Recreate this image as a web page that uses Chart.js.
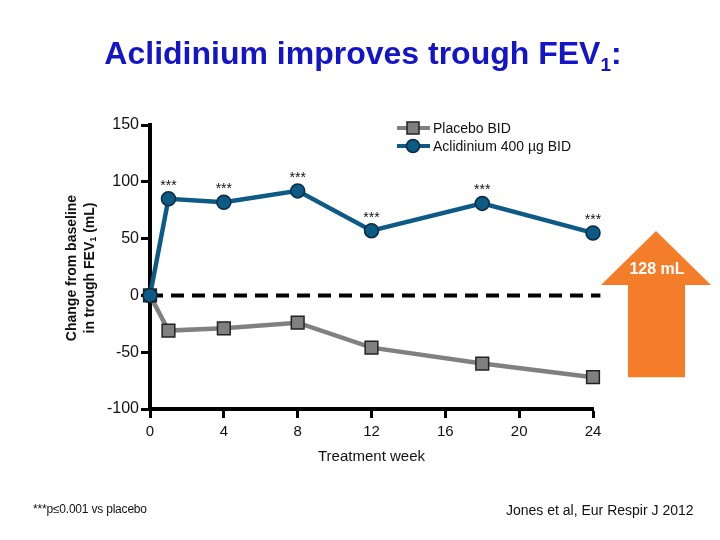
<!DOCTYPE html>
<html>
<head>
<meta charset="utf-8">
<script src="https://cdn.jsdelivr.net/npm/chart.js@4"></script>
<style>
    body { margin: 0; background: #fff; font-family: "Liberation Sans", Arial, sans-serif; }
    #wrap { position: relative; width: 720px; height: 540px; overflow: hidden; }
    #title { position: absolute; left: 0; width: 726px; top: 35px; text-align: center;
             font-size: 32px; font-weight: bold; color: #1414c8; }
    #title sub { font-size: 19px; vertical-align: -7px; }
    #ytitle { position: absolute; left: 82px; top: 268px; width: 260px; text-align: center;
              transform: translate(-50%, -50%) rotate(-90deg); font-size: 14px; font-weight: bold;
              color: #111; line-height: 18px; }
    #ytitle sub { font-size: 9px; vertical-align: -2px; }
    #note { position: absolute; left: 33px; top: 502px; font-size: 12px; letter-spacing: -0.2px; color: #111; }
    #cite { position: absolute; left: 506px; top: 502px; font-size: 14px; color: #111; }
    canvas { position: absolute; left: 0; top: 0; }
</style>
</head>
<body>
<div id="wrap">
    <canvas id="fevChart" width="720" height="540"></canvas>
    <div id="title">Aclidinium improves trough FEV<sub>1</sub>:</div>
    <div id="ytitle">Change from baseline<br>in trough FEV<sub>1</sub> (mL)</div>
    <div id="note">***p≤0.001 vs placebo</div>
    <div id="cite">Jones et al, Eur Respir J 2012</div>
</div>
<script>
const weeks = [0, 1, 4, 8, 12, 18, 24];
const placebo = [0, -31, -29, -24, -46, -60, -72];
const aclidinium = [0, 85, 82, 92, 57, 81, 55];
const significance = ['', '***', '***', '***', '***', '***', '***'];
const xTicks = [0, 4, 8, 12, 16, 20, 24];
const yTicks = [-100, -50, 0, 50, 100, 150];
const seriesNames = ['Placebo BID', 'Aclidinium 400 µg BID'];
const differenceLabel = '128 mL';

const BLUE = '#0d5a87';
const GREY = '#808080';
const ORANGE = '#f47d2a';
const FONT = '"Liberation Sans", Arial, sans-serif';

function toPoints(values) {
    return weeks.map((w, i) => ({ x: w, y: values[i] }));
}

// zero line, asterisks, difference arrow and legend
const extras = {
    id: 'extras',
    beforeDatasetsDraw(chart) {
        const { ctx, scales: { x, y } } = chart;
        ctx.save();
        ctx.strokeStyle = '#000';
        ctx.lineWidth = 4;
        ctx.setLineDash([13, 8]);
        ctx.beginPath();
        ctx.moveTo(x.getPixelForValue(0), y.getPixelForValue(0));
        ctx.lineTo(x.getPixelForValue(24.4), y.getPixelForValue(0));
        ctx.stroke();
        ctx.restore();
    },
    afterDraw(chart) {
        const { ctx, scales: { x, y } } = chart;
        ctx.save();

        // asterisks
        ctx.fillStyle = '#111';
        ctx.font = '14px ' + FONT;
        ctx.textAlign = 'center';
        ctx.textBaseline = 'middle';
        weeks.forEach((w, i) => {
            if (significance[i]) {
                ctx.fillText(significance[i], x.getPixelForValue(w), y.getPixelForValue(aclidinium[i]) - 13);
            }
        });

        // arrow spanning the week-24 difference
        const last = weeks.length - 1;
        const top = y.getPixelForValue(aclidinium[last]) - 2;
        const bottom = y.getPixelForValue(placebo[last]);
        const cx = 656;
        const headBase = top + 54;
        ctx.fillStyle = ORANGE;
        ctx.beginPath();
        ctx.moveTo(cx, top);
        ctx.lineTo(cx + 55, headBase);
        ctx.lineTo(cx + 29, headBase);
        ctx.lineTo(cx + 29, bottom);
        ctx.lineTo(cx - 28, bottom);
        ctx.lineTo(cx - 28, headBase);
        ctx.lineTo(cx - 55, headBase);
        ctx.closePath();
        ctx.fill();
        ctx.fillStyle = '#fff';
        ctx.font = 'bold 16px ' + FONT;
        ctx.fillText(differenceLabel, cx + 1, top + 39);

        // legend
        const rows = [
            { y: 128, color: GREY, style: 'rect' },
            { y: 146, color: BLUE, style: 'circle' }
        ];
        ctx.font = '14px ' + FONT;
        ctx.textAlign = 'left';
        rows.forEach((r, i) => {
            ctx.strokeStyle = r.color;
            ctx.lineWidth = 4;
            ctx.beginPath();
            ctx.moveTo(397, r.y);
            ctx.lineTo(430, r.y);
            ctx.stroke();
            ctx.fillStyle = r.color;
            ctx.strokeStyle = i === 0 ? '#222' : '#0a2a40';
            ctx.lineWidth = 1.5;
            ctx.beginPath();
            if (r.style === 'rect') {
                ctx.rect(407, r.y - 6, 12, 12);
            } else {
                ctx.arc(413, r.y, 6.5, 0, Math.PI * 2);
            }
            ctx.fill();
            ctx.stroke();
            ctx.fillStyle = '#111';
            ctx.fillText(seriesNames[i], 433, r.y + 1);
        });
        ctx.restore();
    }
};

function initializeChart() {
    const ctx = document.getElementById('fevChart').getContext('2d');
    new Chart(ctx, {
        type: 'line',
        data: {
            datasets: [
                {
                    label: seriesNames[1],
                    data: toPoints(aclidinium),
                    borderColor: BLUE,
                    backgroundColor: BLUE,
                    borderWidth: 4.5,
                    pointStyle: 'circle',
                    pointRadius: 7,
                    pointBorderColor: '#0a2a40',
                    pointBorderWidth: 1.5,
                    tension: 0,
                    clip: false,
                    order: 0
                },
                {
                    label: seriesNames[0],
                    data: toPoints(placebo),
                    borderColor: GREY,
                    backgroundColor: GREY,
                    borderWidth: 4.5,
                    pointStyle: 'rect',
                    pointRadius: 9,
                    pointBorderColor: '#222',
                    pointBorderWidth: 1.5,
                    tension: 0,
                    clip: false,
                    order: 1
                }
            ]
        },
        options: {
            responsive: false,
            animation: false,
            layout: { padding: { top: 125, right: 127, left: 0, bottom: 0 } },
            plugins: {
                legend: { display: false },
                tooltip: { enabled: false }
            },
            scales: {
                x: {
                    type: 'linear',
                    min: 0,
                    max: 24,
                    afterFit: (scale) => { scale.height = 131; },
                    afterBuildTicks: (scale) => { scale.ticks = xTicks.map(v => ({ value: v })); },
                    border: { color: '#000', width: 4 },
                    grid: { drawOnChartArea: false, drawTicks: true, tickLength: 9, tickWidth: 3, tickColor: '#000' },
                    ticks: { color: '#111', font: { size: 15, family: FONT }, padding: 5 },
                    title: {
                        display: true,
                        text: 'Treatment week',
                        color: '#111',
                        font: { size: 15, family: FONT },
                        padding: { top: 0, bottom: 74 }
                    }
                },
                y: {
                    min: -100,
                    max: 150,
                    afterFit: (scale) => { scale.width = 150; },
                    afterBuildTicks: (scale) => { scale.ticks = yTicks.map(v => ({ value: v })); },
                    border: { color: '#000', width: 4 },
                    grid: { drawOnChartArea: false, drawTicks: true, tickLength: 9, tickWidth: 3, tickColor: '#000' },
                    ticks: { color: '#111', font: { size: 16, family: FONT }, padding: 2 }
                }
            }
        },
        plugins: [extras]
    });
}

document.addEventListener('DOMContentLoaded', initializeChart);
</script>
</body>
</html>
